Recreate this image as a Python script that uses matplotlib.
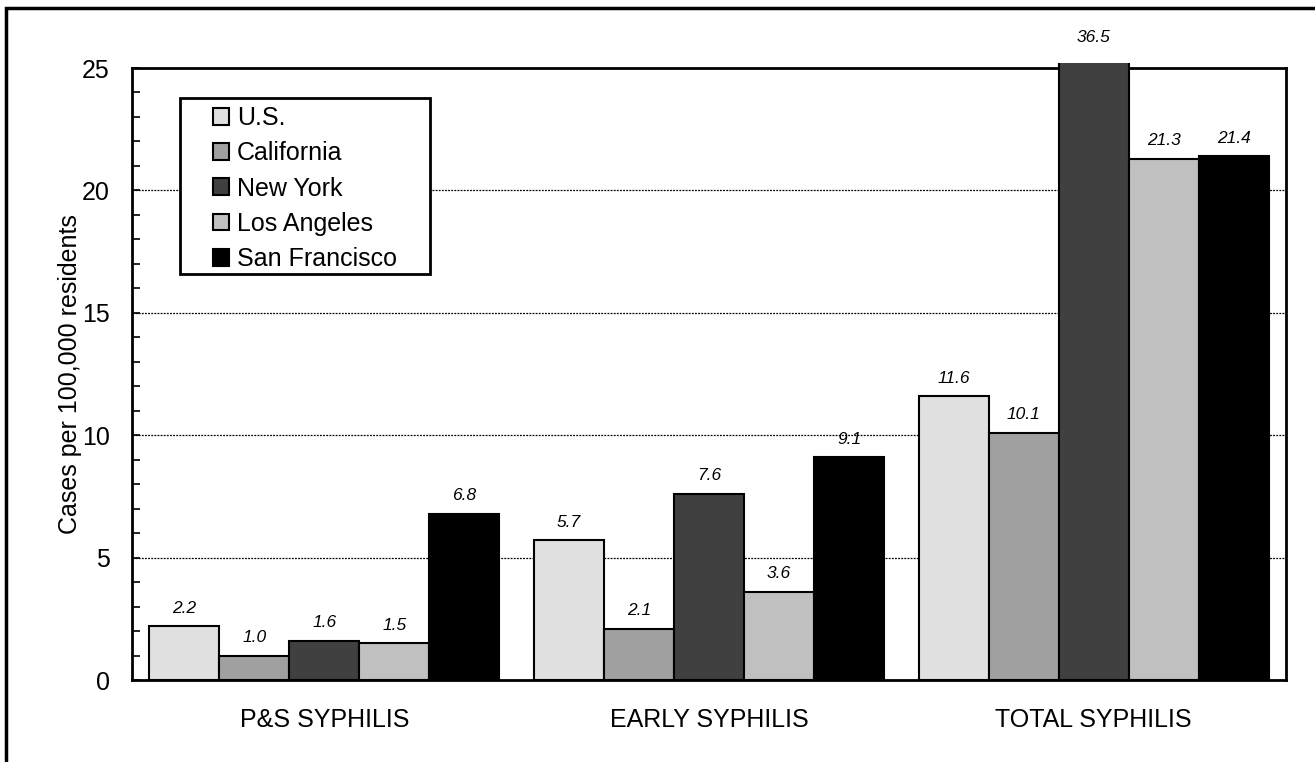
import matplotlib
matplotlib.use("Agg")
import matplotlib.pyplot as plt
from matplotlib.patches import Rectangle
from matplotlib.ticker import MultipleLocator
import numpy as np

categories = ["P&S SYPHILIS", "EARLY SYPHILIS", "TOTAL SYPHILIS"]
series = ["U.S.", "California", "New York", "Los Angeles", "San Francisco"]
us = [2.2, 5.7, 11.6]
california = [1.0, 2.1, 10.1]
new_york = [1.6, 7.6, 36.5]
los_angeles = [1.5, 3.6, 21.3]
san_francisco = [6.8, 9.1, 21.4]
values = [us, california, new_york, los_angeles, san_francisco]
colors = ["#e0e0e0", "#a0a0a0", "#404040", "#c0c0c0", "#000000"]

plt.rcParams['font.family'] = ['Liberation Sans', 'DejaVu Sans']

fig = plt.figure(figsize=(13.15, 7.62), dpi=100)
ax = fig.add_axes([132/1315, 1-680/762, (1286-132)/1315, (680-68)/762])

# figure border (left and top visible)
fig.patches.append(Rectangle((6/1315, -0.05), 1.2, 1-8/762+0.05, transform=fig.transFigure,
                             fill=False, edgecolor='black', linewidth=2.5))

ymax = 25
ax.set_ylim(0, ymax)
ax.set_xlim(-0.5, 2.5)
x = np.arange(len(categories))
w = 0.182
clip_rect = Rectangle((0, 0), 1, 1 + 5/612, transform=ax.transAxes, facecolor='none', edgecolor='none')
ax.add_patch(clip_rect)
vis_top = ymax + 5/612*ymax
handles = []
for i, (name, vals, c) in enumerate(zip(series, values, colors)):
    pos = x + (i - 2) * w
    bars = ax.bar(pos, vals, width=w, color=c, edgecolor='black', linewidth=1.5, label=name, zorder=3)
    handles.append(bars)
    for b in bars:
        b.set_clip_path(clip_rect)
    for p, v in zip(pos, vals):
        top = min(v, vis_top)
        off = 18 if v <= ymax else 26
        ax.annotate(f"{v:.1f}", (p, top), xytext=(0, off), textcoords='offset pixels',
                    ha='center', va='center', fontsize=12.5, style='italic', annotation_clip=False)

ax.yaxis.set_major_locator(MultipleLocator(5))
ax.yaxis.set_minor_locator(MultipleLocator(1))
ax.tick_params(axis='y', which='both', direction='in', length=6, width=1.2, labelsize=18, pad=16)
ax.tick_params(axis='x', length=0, labelsize=18, pad=20)
ax.set_xticks(x)
ax.set_xticklabels(categories)
ax.grid(axis='y', which='major', linestyle=(0, (1.5, 1)), color='black', linewidth=0.9, zorder=0)
ax.set_axisbelow(True)
for s in ax.spines.values():
    s.set_linewidth(2)
ax.set_ylabel("Cases per 100,000 residents", fontsize=18, labelpad=0)

# legend box
box = Rectangle(((180-132)/1154, (680-274)/612), (430-180)/1154, (274-98)/612,
                transform=ax.transAxes, facecolor='white', edgecolor='black', linewidth=2, zorder=4)
ax.add_patch(box)
leg = ax.legend(handles=handles, labels=series, loc='upper left',
                bbox_to_anchor=((213-132)/1154, (680-106)/612), fontsize=18,
                handlelength=0.65, handleheight=0.65, handletextpad=0.3, labelspacing=0.45,
                borderpad=0, borderaxespad=0, frameon=False)
leg.set_zorder(5)

fig.savefig("out.png", dpi=100)
